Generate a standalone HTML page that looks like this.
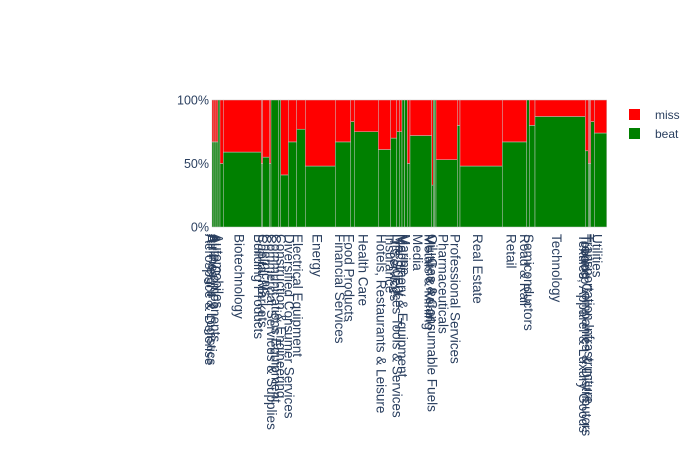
<!DOCTYPE html>
<html><head><meta charset="utf-8"><style>
html,body{margin:0;padding:0;background:#fff;}
svg{display:block;font-family:"Liberation Sans",Arial,sans-serif;}
</style></head><body>
<svg id="chart" width="700" height="450">
<g id="bars"></g>
<g id="xticks"></g>
<g id="yticks"></g>
<g>
  <g>
    <rect x="629" y="109" width="11" height="11" fill="#ff0000"></rect>
    <text x="655" y="119" font-size="12" fill="#2a3f5f">miss</text>
  </g>
  <g>
    <rect x="629" y="128" width="11" height="11" fill="#008000"></rect>
    <text x="655" y="138" font-size="12" fill="#2a3f5f">beat</text>
  </g>
</g>
</svg>
<script>
const categories = ["Aerospace & Defense","Air Freight & Logistics","Airlines","Auto Components","Automobiles","Biotechnology","Building Products","Capital Markets","Chemicals","Commercial Services & Supplies","Communications Equipment","Construction & Engineering","Diversified Consumer Services","Electrical Equipment","Energy","Financial Services","Food Products","Health Care","Hotels, Restaurants & Leisure","Insurance","IT Services","Life Sciences Tools & Services","Machinery","Machinery & Equipment","Marine","Media","Metals & Mining","Multiline Retail","Oil, Gas & Consumable Fuels","Pharmaceuticals","Professional Services","Real Estate","Retail","Road & Rail","Semiconductors","Technology","Textiles, Apparel & Luxury Goods","Tobacco","Trading Companies & Distributors","Transportation Infrastructure","Utilities"];
const widths = [2,2,2,2,3.3,38,1.4,6.6,1.7,7.7,2,7.6,8.4,8.6,30,15.4,3.6,24,12.4,6,2.6,2.7,2.6,2.7,2.7,21.7,1.6,1.4,1.3,21.3,2.7,42.3,24.4,2.6,5.7,50.3,3,1.2,1.2,3.6,12.4];
const beatShare = [0.67,0.67,0.67,1.0,0.5,0.59,0.5,0.55,0.5,1.0,1.0,0.41,0.67,0.77,0.48,0.67,0.83,0.75,0.61,0.70,0.75,0.75,1.0,1.0,0.5,0.72,0.33,1.0,1.0,0.53,0.80,0.48,0.67,1.0,0.80,0.87,0.60,0.5,0.5,0.83,0.74];
const yTicks = [0,0.5,1];
const yTickLabels = ["0%","50%","100%"];

const X0=212, X1=606.7, Y0=227, Y1=100;
const total = widths.reduce((a,b)=>a+b,0);
const xs = v => X0 + (v/total)*(X1-X0);
const ys = v => Y0 - v*(Y0-Y1);
const NS="http://www.w3.org/2000/svg";
const gb=document.getElementById('bars'), gx=document.getElementById('xticks'), gy=document.getElementById('yticks');
let cum=0;
categories.forEach((c,i)=>{
  const l=xs(cum), r=xs(cum+widths[i]); cum+=widths[i];
  const b=beatShare[i];
  const g=document.createElementNS(NS,'rect');
  g.setAttribute('x',l);g.setAttribute('width',r-l);g.setAttribute('y',ys(b));g.setAttribute('height',ys(0)-ys(b));
  g.setAttribute('fill','#008000');g.setAttribute('stroke','#c8c8c8');g.setAttribute('stroke-width','0.5');
  
  
  gb.appendChild(g);
  const m=document.createElementNS(NS,'rect');
  m.setAttribute('x',l);m.setAttribute('width',r-l);m.setAttribute('y',ys(1));m.setAttribute('height',ys(b)-ys(1));
  m.setAttribute('fill','#ff0000');m.setAttribute('stroke','#c8c8c8');m.setAttribute('stroke-width','0.5');
  
  
  gb.appendChild(m);
  const t=document.createElementNS(NS,'text');
  const cx=(l+r)/2-3.5;
  t.setAttribute('transform','translate('+cx+',234) rotate(90)');
  t.setAttribute('font-size','13.5');t.setAttribute('fill','#2a3f5f');t.setAttribute('dominant-baseline','central');
  t.textContent=c;
  
  
  gx.appendChild(t);
});
yTicks.forEach((v,i)=>{
  const t=document.createElementNS(NS,'text');
  t.setAttribute('x',209);t.setAttribute('y',ys(v)+4.5);t.setAttribute('text-anchor','end');
  t.setAttribute('font-size','12.5');t.setAttribute('fill','#2a3f5f');
  t.textContent=yTickLabels[i];
  
  
  gy.appendChild(t);
});
</script>
</body></html>
